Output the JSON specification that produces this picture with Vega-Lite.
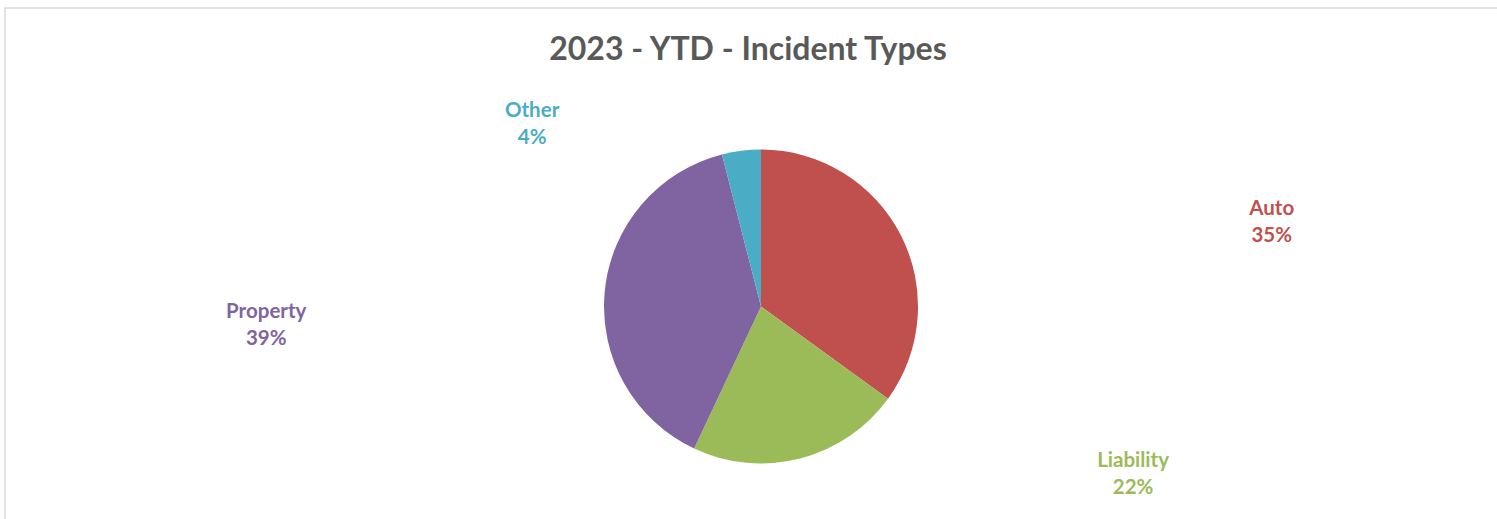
{
  "$schema": "https://vega.github.io/schema/vega-lite/v6.json",
  "width": 1497,
  "height": 519,
  "autosize": {"type": "fit", "contains": "padding"},
  "padding": {"left": 5, "right": -20, "top": 8, "bottom": -86},
  "background": "white",
  "view": {"stroke": "#D9D9D9", "strokeWidth": 1.5, "fill": "white"},
  "title": {
    "text": "2023 - YTD - Incident Types",
    "font": "Lato",
    "fontSize": 32,
    "fontWeight": "bold",
    "color": "#595959",
    "anchor": "middle",
    "frame": "group",
    "baseline": "alphabetic",
    "offset": -84,
    "dx": -13
  },
  "config": {"view": {"stroke": "#D9D9D9", "strokeWidth": 1.5}},
  "data": {
    "values": [
      {"type": "Auto", "pct": 35},
      {"type": "Liability", "pct": 22},
      {"type": "Property", "pct": 39},
      {"type": "Other", "pct": 4}
    ]
  },
  "transform": [
    {"window": [{"op": "row_number", "as": "idx"}]},
    {"stack": "pct", "groupby": [], "sort": [{"field": "idx", "order": "ascending"}], "as": ["t0", "t1"]},
    {"calculate": "[datum.type, datum.pct + '%']", "as": "label"}
  ],
  "encoding": {
    "color": {
      "field": "type",
      "type": "nominal",
      "scale": {"domain": ["Auto", "Liability", "Property", "Other"], "range": ["#C0504D", "#9BBB59", "#8064A2", "#4BACC6"]},
      "legend": null
    }
  },
  "layer": [
    {
      "mark": {"type": "arc", "radius": 157},
      "encoding": {
        "theta": {"field": "t0", "type": "quantitative", "stack": null, "scale": {"domain": [0, 100]}},
        "theta2": {"field": "t1"}
      }
    },
    {
      "transform": [{"filter": "datum.type === 'Auto'"}],
      "mark": {"type": "text", "radius": 518, "thetaOffset": 1.403, "dy": -10.5, "font": "Lato", "fontSize": 20.5, "fontWeight": "bold", "lineHeight": 27, "align": "center", "baseline": "middle"},
      "encoding": {"theta": {"field": "t0", "type": "quantitative", "stack": null, "scale": {"domain": [0, 100]}}, "text": {"field": "label"}}
    },
    {
      "transform": [{"filter": "datum.type === 'Liability'"}],
      "mark": {"type": "text", "radius": 407, "thetaOffset": -0.211, "dy": -10.5, "font": "Lato", "fontSize": 20.5, "fontWeight": "bold", "lineHeight": 27, "align": "center", "baseline": "middle"},
      "encoding": {"theta": {"field": "t0", "type": "quantitative", "stack": null, "scale": {"domain": [0, 100]}}, "text": {"field": "label"}}
    },
    {
      "transform": [{"filter": "datum.type === 'Property'"}],
      "mark": {"type": "text", "radius": 495, "thetaOffset": 1.099, "dy": -10.5, "font": "Lato", "fontSize": 20.5, "fontWeight": "bold", "lineHeight": 27, "align": "center", "baseline": "middle"},
      "encoding": {"theta": {"field": "t0", "type": "quantitative", "stack": null, "scale": {"domain": [0, 100]}}, "text": {"field": "label"}}
    },
    {
      "transform": [{"filter": "datum.type === 'Other'"}],
      "mark": {"type": "text", "radius": 294, "thetaOffset": -0.641, "dy": -10.5, "font": "Lato", "fontSize": 20.5, "fontWeight": "bold", "lineHeight": 27, "align": "center", "baseline": "middle"},
      "encoding": {"theta": {"field": "t0", "type": "quantitative", "stack": null, "scale": {"domain": [0, 100]}}, "text": {"field": "label"}}
    }
  ]
}
